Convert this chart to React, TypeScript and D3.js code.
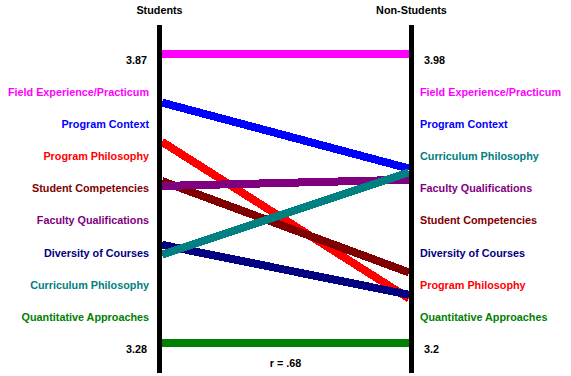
import React from "react";
import * as d3 from "d3";

const categories = [
  "Field Experience/Practicum",
  "Program Context",
  "Program Philosophy",
  "Student Competencies",
  "Faculty Qualifications",
  "Diversity of Courses",
  "Curriculum Philosophy",
  "Quantitative Approaches",
];
const colors = ["#ff00ff", "#0000ff", "#ff0000", "#800000", "#800080", "#000080", "#008080", "#008000"];
const studentValues = [3.87, 3.77, 3.69, 3.61, 3.6, 3.48, 3.46, 3.28];
const nonStudentValues = [3.98, 3.67, 3.32, 3.39, 3.64, 3.33, 3.66, 3.2];
const rightOrder = [
  "Field Experience/Practicum",
  "Program Context",
  "Curriculum Philosophy",
  "Faculty Qualifications",
  "Student Competencies",
  "Diversity of Courses",
  "Program Philosophy",
  "Quantitative Approaches",
];
const leftDomain = [3.28, 3.87];
const rightDomain = [3.2, 3.98];
const leftTickLabels = ["3.87", "3.28"];
const rightTickLabels = ["3.98", "3.2"];
const axisTitles = ["Students", "Non-Students"];
const note = "r = .68";

const W = 571;
const H = 376;
const xL = 159.5;
const xR = 411.5;
const yTop = 53.5;
const yBot = 343;

export default function App() {
  const yLeft = d3.scaleLinear().domain(leftDomain).range([yBot, yTop]);
  const yRight = d3.scaleLinear().domain(rightDomain).range([yBot, yTop]);
  const slot = d3.scaleLinear().domain([0, 9]).range([61, 350]);
  const font = "'Liberation Sans', Arial, sans-serif";
  const colorOf = (name: string) => colors[categories.indexOf(name)];
  return (
    <svg width={W} height={H} style={{ position: "absolute", left: 0, top: 0, background: "#fff" }}
      fontFamily={font} fontWeight="bold" fontSize={10.8}>
      <rect x={0} y={0} width={W} height={H} fill="#fff" />
      {categories.map((c, i) => (
        <line key={c} x1={xL + 2.5} x2={xR - 2.5} y1={yLeft(studentValues[i])} y2={yRight(nonStudentValues[i])}
          stroke={colors[i]} strokeWidth={8} shapeRendering="crispEdges" />
      ))}
      <rect x={157} y={25} width={5} height={348} fill="#000" />
      <rect x={409} y={25} width={5} height={348} fill="#000" />
      <text x={xL} y={11} textAnchor="middle" dominantBaseline="middle">{axisTitles[0]}</text>
      <text x={xR} y={11} textAnchor="middle" dominantBaseline="middle">{axisTitles[1]}</text>
      <text x={147} y={slot(0)} textAnchor="end" dominantBaseline="middle">{leftTickLabels[0]}</text>
      <text x={147} y={slot(9)} textAnchor="end" dominantBaseline="middle">{leftTickLabels[1]}</text>
      <text x={424} y={slot(0)} dominantBaseline="middle">{rightTickLabels[0]}</text>
      <text x={424} y={slot(9)} dominantBaseline="middle">{rightTickLabels[1]}</text>
      {categories.map((c, i) => (
        <text key={"l" + c} x={149} y={slot(i + 1)} textAnchor="end" dominantBaseline="middle" fill={colors[i]}>{c}</text>
      ))}
      {rightOrder.map((c, i) => (
        <text key={"r" + c} x={420} y={slot(i + 1)} dominantBaseline="middle" fill={colorOf(c)}>{c}</text>
      ))}
      <text x={(xL + xR) / 2} y={364} textAnchor="middle" dominantBaseline="middle">{note}</text>
    </svg>
  );
}
